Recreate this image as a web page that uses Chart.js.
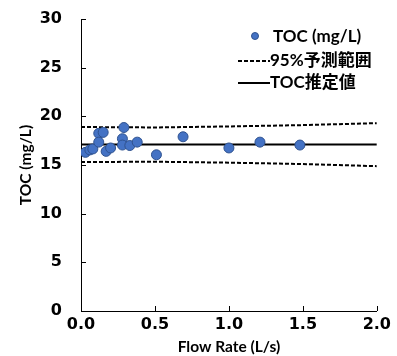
<!DOCTYPE html>
<html>
<head>
<meta charset="utf-8">
<script src="https://cdn.jsdelivr.net/npm/chart.js@4"></script>
<style>
  html, body { margin: 0; padding: 0; background: #fff; }
  #wrap { width: 397px; height: 356px; }
</style>
</head>
<body>
<div id="wrap"><canvas id="tocChart"></canvas></div>
<script>
// measured TOC vs flow rate
const flowRate = [0.03, 0.06, 0.08, 0.12, 0.15, 0.12, 0.17, 0.20, 0.29, 0.28, 0.28, 0.33, 0.38, 0.51, 0.69, 1.00, 1.21, 1.48];
const tocValues = [16.3, 16.55, 16.65, 18.25, 18.35, 17.35, 16.4, 16.75, 18.85, 17.7, 17.05, 17.0, 17.35, 16.05, 17.9, 16.75, 17.35, 17.05];

// regression estimate (flat) and 95% prediction band
const fitX = [0, 2.0];
const fitY = [17.1, 17.1];
const bandX = [0, 0.5, 1.0, 1.5, 2.0];
const bandUpper = [18.9, 18.86, 18.96, 19.1, 19.3];
const bandLower = [15.3, 15.34, 15.24, 15.1, 14.88];

// y / x tick values
const yTicks = [0, 5, 10, 15, 20, 25, 30];
const xTicks = [0, 0.5, 1.0, 1.5, 2.0];

const toXY = (xs, ys) => xs.map((x, i) => ({ x: x, y: ys[i] }));

const tickFont = { family: "'DejaVu Sans', sans-serif", size: 16, weight: 'bold', lineHeight: 1 };
const titleFont = { family: "Lato, 'Noto Sans CJK JP', sans-serif", size: 15.5, weight: 'bold' };
const legendFont = "bold 17px Lato, 'Noto Sans CJK JP', sans-serif";

// ticks pointing into the plot area
const insideTicks = {
    id: 'insideTicks',
    afterDraw(chart) {
        const ctx = chart.ctx;
        const xs = chart.scales.x, ys = chart.scales.y;
        const area = chart.chartArea;
        ctx.save();
        ctx.strokeStyle = '#000';
        ctx.lineWidth = 1;
        ctx.beginPath();
        xTicks.forEach(v => {
            const px = Math.round(xs.getPixelForValue(v)) + 0.5;
            ctx.moveTo(px, area.bottom);
            ctx.lineTo(px, area.bottom - 5);
        });
        yTicks.forEach(v => {
            const py = Math.round(ys.getPixelForValue(v)) + 0.5;
            ctx.moveTo(area.left, py);
            ctx.lineTo(area.left + 5, py);
        });
        ctx.stroke();
        ctx.restore();
    }
};

// legend drawn in the upper right of the plot
const customLegend = {
    id: 'customLegend',
    afterDraw(chart) {
        const ctx = chart.ctx;
        ctx.save();
        ctx.font = legendFont;
        ctx.fillStyle = '#000';
        ctx.textBaseline = 'middle';

        ctx.beginPath();
        ctx.arc(255, 36, 3.5, 0, Math.PI * 2);
        ctx.fillStyle = '#4472C4';
        ctx.fill();
        ctx.strokeStyle = '#2F528F';
        ctx.lineWidth = 1;
        ctx.stroke();
        ctx.fillStyle = '#000';
        ctx.fillText('TOC (mg/L)', 273, 37);

        ctx.strokeStyle = '#000';
        ctx.lineWidth = 2;
        ctx.setLineDash([4, 2]);
        ctx.beginPath();
        ctx.moveTo(238, 61);
        ctx.lineTo(270, 61);
        ctx.stroke();
        ctx.fillText('95%予測範囲', 270, 61);

        ctx.setLineDash([]);
        ctx.beginPath();
        ctx.moveTo(238, 83);
        ctx.lineTo(270, 83);
        ctx.stroke();
        ctx.fillText('TOC推定値', 270, 83);
        ctx.restore();
    }
};

new Chart(document.getElementById('tocChart'), {
    type: 'scatter',
    data: {
        datasets: [
            {
                label: 'TOC (mg/L)',
                data: toXY(flowRate, tocValues),
                backgroundColor: '#4472C4',
                borderColor: '#2F528F',
                borderWidth: 1,
                pointRadius: 5,
                order: 0
            },
            {
                label: '95%予測範囲',
                data: toXY(bandX, bandUpper),
                showLine: true,
                borderColor: '#000',
                borderWidth: 2,
                borderDash: [4, 2],
                pointRadius: 0,
                order: 1
            },
            {
                label: '95%予測範囲 (lower)',
                data: toXY(bandX, bandLower),
                showLine: true,
                borderColor: '#000',
                borderWidth: 2,
                borderDash: [4, 2],
                pointRadius: 0,
                order: 1
            },
            {
                label: 'TOC推定値',
                data: toXY(fitX, fitY),
                showLine: true,
                borderColor: '#000',
                borderWidth: 2,
                pointRadius: 0,
                order: 1
            }
        ]
    },
    options: {
        responsive: true,
        maintainAspectRatio: false,
        animation: false,
        layout: { padding: { top: 19, right: 19, left: 0, bottom: 0 } },
        plugins: {
            legend: { display: false },
            tooltip: { enabled: false }
        },
        scales: {
            x: {
                type: 'linear',
                min: 0,
                max: 2,
                afterBuildTicks: s => { s.ticks = xTicks.map(v => ({ value: v })); },
                ticks: {
                    color: '#000',
                    font: tickFont,
                    padding: 6,
                    maxRotation: 0,
                    callback: v => v.toFixed(1)
                },
                grid: { display: true, drawOnChartArea: false, drawTicks: false, color: '#000' },
                border: { color: '#000', width: 1 },
                title: { display: true, text: 'Flow Rate (L/s)', color: '#000', font: titleFont, padding: { top: 0, bottom: 0 } },
                afterFit: s => { s.height = 45; }
            },
            y: {
                min: 0,
                max: 30,
                afterBuildTicks: s => { s.ticks = yTicks.map(v => ({ value: v })); },
                ticks: { color: '#000', font: tickFont, padding: 4 },
                grid: { display: true, drawOnChartArea: false, drawTicks: true, tickLength: 15, tickColor: 'rgba(0,0,0,0)', color: '#000' },
                border: { color: '#000', width: 1 },
                title: { display: true, text: 'TOC (mg/L)', color: '#000', font: titleFont, padding: { top: 17, bottom: 0 } },
                afterFit: s => { s.width = 81; }
            }
        }
    },
    plugins: [insideTicks, customLegend]
});
</script>
</body>
</html>
